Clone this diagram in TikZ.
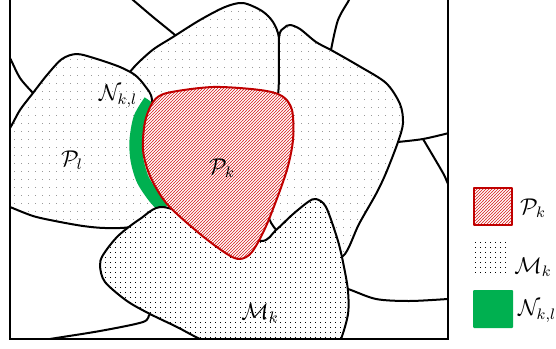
\documentclass[tikz,border=0pt]{standalone}
\usetikzlibrary{patterns}
\definecolor{hatchred}{RGB}{215,25,25}
\definecolor{edgered}{RGB}{192,0,0}
\definecolor{ngreen}{RGB}{0,176,80}
\pgfdeclarepatternformonly{graydots}{\pgfqpoint{-1pt}{-1pt}}{\pgfqpoint{8pt}{9pt}}{\pgfqpoint{7pt}{8pt}}{%
  \pgfpathrectangle{\pgfqpoint{0pt}{0pt}}{\pgfqpoint{1.3pt}{1.3pt}}\pgfusepath{fill}}
\pgfdeclarepatternformonly{densedots}{\pgfqpoint{-1pt}{-1pt}}{\pgfqpoint{6pt}{6pt}}{\pgfqpoint{5pt}{5pt}}{%
  \pgfpathrectangle{\pgfqpoint{0pt}{0pt}}{\pgfqpoint{1pt}{1pt}}\pgfusepath{fill}}
\pgfdeclarepatternformonly{redhatch}{\pgfqpoint{-1pt}{-1pt}}{\pgfqpoint{4pt}{4pt}}{\pgfqpoint{3pt}{3pt}}{%
  \pgfsetlinewidth{0.6pt}\pgfpathmoveto{\pgfqpoint{-0.1pt}{-0.1pt}}\pgfpathlineto{\pgfqpoint{3.1pt}{3.1pt}}\pgfusepath{stroke}}
\begin{document}
\begin{tikzpicture}[x=1pt,y=-1pt,
  cell/.style={draw=black, line width=2pt, line join=round, preaction={fill=white},
    pattern=graydots, pattern color=black!40},
  mcell/.style={draw=black, line width=2pt, line join=round, preaction={fill=white},
    pattern=densedots, pattern color=black},
  pcell/.style={draw=edgered, line width=2pt, line join=round, preaction={fill=white},
    pattern=redhatch, pattern color=hatchred},
  bline/.style={draw=black, line width=2pt},
  lbl/.style={font=\fontsize{12}{14}\selectfont, scale=1.9, inner sep=0pt},
]
\useasboundingbox (0,0) rectangle (556,348);
\begin{scope}
\clip (10,-10) rectangle (448,339);
% background boundaries
\draw[bline] plot[smooth] coordinates {(125,-7) (133,0) (153,17) (175,35) (185,45)};
\draw[bline] plot[smooth] coordinates {(5,50) (10,58) (20,78) (33,93) (40,100)};
\draw[bline] plot[smooth] coordinates {(352,-8) (349,0) (338,20) (331,50) (330,60)};
\draw[bline] plot[smooth] coordinates {(390,143) (398,142) (423,139) (449,133) (460,130)};
\draw[bline] plot[smooth] coordinates {(423,139) (443,173) (448,184) (455,196)};
\draw[bline] plot[smooth] coordinates {(340,289) (348,289) (376,299) (409,301) (448,299) (460,298)};
\draw[bline] plot[smooth] coordinates {(160,310) (150,314) (143,322) (100,331) (50,339) (30,343)};
% light dotted cells
\path[cell] plot[smooth cycle] coordinates {(128,76) (150,52) (173,37) (200,20) (225,7) (243,3) (262,11) (273,22) (279,38) (279,70) (277,100) (240,140) (170,140) (140,95)};
\path[cell] plot[smooth cycle] coordinates {(279,38) (284,28) (290,25) (300,29) (316,42) (331,50) (359,66) (386,83) (400,104) (403,123) (398,142) (386,173) (376,194) (359,224) (343,256) (320,252) (288,240) (268,215) (265,150) (278,95)};
\path[cell] plot[smooth cycle] coordinates {(0,140) (10,128) (20,110) (33,93) (47,75) (62,59) (77,54) (97,59) (120,67) (135,75) (145,86) (152,100) (150,140) (158,182) (163,205) (150,218) (130,227) (105,228) (83,226) (55,221) (33,216) (10,207) (0,203)};
% neighbourhood band
\draw[ngreen, line width=13pt] plot[smooth] coordinates {(150,101) (140,118) (136,140) (137,160) (143,180) (155,198) (165,208)};
% M_k cell
\path[mcell] plot[smooth cycle] coordinates {(163,207) (140,219) (118,236) (103,255) (100,266) (105,282) (127,301) (150,314) (177,327) (200,339) (250,362) (330,362) (341,339) (348,314) (348,291) (344,267) (338,241) (326,207) (316,199) (308,202) (292,215) (276,230) (260,241) (210,224)};
% P_k cell
\path[pcell] plot[smooth cycle] coordinates {(153,102) (167,93) (213,87) (260,90) (282,96) (292,110) (293,140) (286,173) (267,224) (252,252) (240,259) (227,254) (200,234) (167,204) (150,176) (143,150) (145,122)};
\end{scope}
% labels
\node[lbl] (tN) at (118,96) {$\mathcal{N}_{k,l}$};
\node[lbl] (tPl) at (72,160) {$\mathcal{P}_l$};
\node[lbl] (tPk) at (222,168) {$\mathcal{P}_k$};
\node[lbl] (tMk) at (260,313) {$\mathcal{M}_k$};
% frame
\draw[line width=2.5pt, line join=miter] (10,0) -- (10,339) -- (448,339) -- (448,0);
% legend
\path[pcell, line width=2.5pt] (474,188) rectangle (512,225);
\path[pattern=densedots, pattern color=black] (472,242) rectangle (508,276);
\fill[ngreen, rounded corners=1pt] (473,290) rectangle (513,328);
\node[lbl] (lP) at (533,208) {$\mathcal{P}_k$};
\node[lbl] (lM) at (533,267) {$\mathcal{M}_k$};
\node[lbl] (lN) at (537,311) {$\mathcal{N}_{k,l}$};
\end{tikzpicture}
\end{document}
